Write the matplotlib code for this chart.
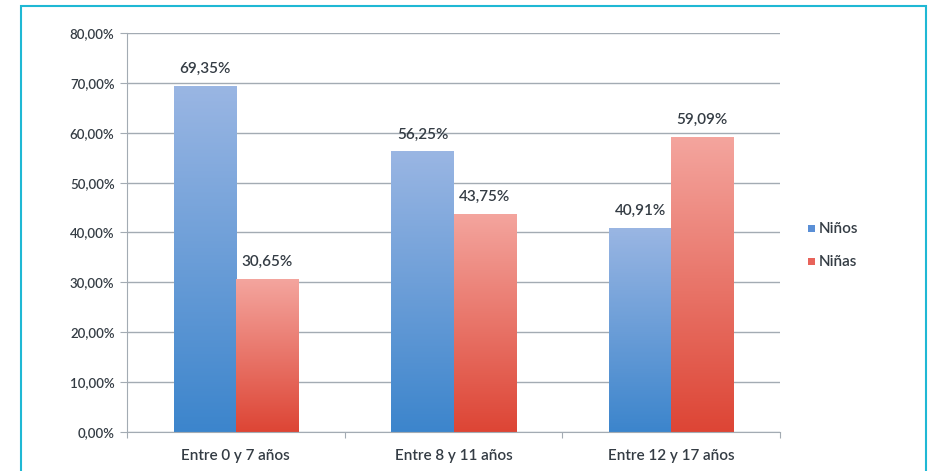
import numpy as np
import matplotlib.pyplot as plt
from matplotlib.patches import Rectangle
from matplotlib.colors import LinearSegmentedColormap

# datos
categorias = ['Entre 0 y 7 años', 'Entre 8 y 11 años', 'Entre 12 y 17 años']
ninos = [69.35, 56.25, 40.91]
ninas = [30.65, 43.75, 59.09]
series = ['Niños', 'Niñas']

plt.rcParams['font.family'] = ['Lato', 'DejaVu Sans']
texto = '#343c44'

fig = plt.figure(figsize=(9.35, 4.71), dpi=100)
W, H = 935, 471

# marco cian
marco = Rectangle((21 / W, -0.05), (926 - 21) / W, (471 - 6) / H + 0.05,
                  transform=fig.transFigure, fill=False, edgecolor='#1fb8d4', lw=1.5)
fig.patches.append(marco)

ax = fig.add_axes([127 / W, 1 - 432 / H, (780 - 127) / W, (432 - 33) / H])
ax.set_xlim(0, 3)
ax.set_ylim(0, 80)

grid_col = '#a3abb3'
ax.set_yticks(np.arange(0, 81, 10))
ax.set_yticklabels([f'{v:.2f}%'.replace('.', ',') for v in np.arange(0, 81, 10)],
                   fontsize=9.5, color=texto, fontweight='semibold')
ax.yaxis.grid(True, color=grid_col, lw=1)
ax.set_axisbelow(True)
ax.tick_params(axis='y', length=5, color=grid_col, pad=4)

# ticks entre categorías
ax.set_xticks([0, 1, 2, 3])
ax.set_xticklabels([])
ax.set_xticks([0.5, 1.5, 2.5], minor=True)
ax.set_xticklabels(categorias, minor=True, fontsize=11, color=texto, fontweight='semibold')
ax.tick_params(axis='x', which='major', length=4, color=grid_col)
ax.tick_params(axis='x', which='minor', length=0, pad=12)

for s in ['top', 'right']:
    ax.spines[s].set_visible(False)
for s in ['left', 'bottom']:
    ax.spines[s].set_color(grid_col)

cmap_azul = LinearSegmentedColormap.from_list('azul', ['#3c85cc', '#9ab6e3'])
cmap_rojo = LinearSegmentedColormap.from_list('rojo', ['#dd4535', '#f4a59e'])

ancho = 0.285
grad = np.linspace(0, 1, 256).reshape(-1, 1)


def barra(x0, h, cmap):
    rect = Rectangle((x0, 0), ancho, h, facecolor='none', edgecolor='none')
    ax.add_patch(rect)
    im = ax.imshow(grad, cmap=cmap, vmin=0, vmax=1, origin='lower',
                   extent=[x0, x0 + ancho, 0, h], aspect='auto', zorder=2)
    im.set_clip_path(rect)
    ax.text(x0 + ancho / 2, h + 2, f'{h:.2f}%'.replace('.', ','),
            ha='center', va='bottom', fontsize=11, color=texto, fontweight='semibold')


for i in range(3):
    c = i + 0.5
    barra(c - ancho, ninos[i], cmap_azul)
    barra(c, ninas[i], cmap_rojo)

ax.set_xlim(0, 3)
ax.set_ylim(0, 80)

# leyenda
for j, (nombre, col) in enumerate(zip(series, ['#5a8fd6', '#e8635a'])):
    y = 1 - (229 + j * 33) / H
    fig.patches.append(Rectangle((808 / W, y - 3 / H), 7 / W, 7 / H,
                                 transform=fig.transFigure, facecolor=col, edgecolor='none'))
    fig.text(819 / W, y, nombre, fontsize=11, color=texto, va='center', ha='left',
             fontweight='semibold')

fig.savefig('out.png', dpi=100)
